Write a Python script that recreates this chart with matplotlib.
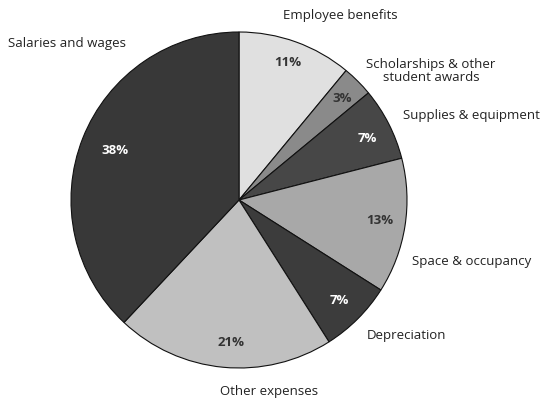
import matplotlib
matplotlib.use("Agg")
import matplotlib.pyplot as plt

categories = ["Employee benefits", "Scholarships & other\nstudent awards", "Supplies & equipment",
              "Space & occupancy", "Depreciation", "Other expenses", "Salaries and wages"]
values = [11, 3, 7, 13, 7, 21, 38]
colors = ["#e0e0e0", "#8a8a8a", "#474747", "#a8a8a8", "#3c3c3c", "#c0c0c0", "#383838"]
pct_colors = ["#333333", "#333333", "white", "#333333", "white", "#333333", "white"]

# layout (pixel coordinates, y measured from top)
label_pos = [(340, 16, "center"), (431, 71, "center"), (403, 115, "left"), (412, 261, "left"),
             (367, 336, "left"), (269, 391, "center"), (8, 44, "left")]
pct_pos = [(288, 62), (342, 99), (367, 139), (380, 220), (339, 300), (231, 343), (115, 150)]

W, H = 555, 400
fig = plt.figure(figsize=(W / 100, H / 100), dpi=100)
ax = fig.add_axes([0, 0, 1, 1])

ax.pie(values, colors=colors, startangle=90, counterclock=False,
       center=(239, H - 200), radius=168, frame=True,
       wedgeprops=dict(edgecolor="#111111", linewidth=0.8))
ax.set_xlim(0, W)
ax.set_ylim(0, H)
ax.set_aspect("equal")
ax.axis("off")

font = "Open Sans"
for cat, (x, y, ha) in zip(categories, label_pos):
    ax.text(x, H - y, cat, ha=ha, va="center", fontsize=9.5, color="#222222",
            family=font, linespacing=1.0)
for v, c, (x, y) in zip(values, pct_colors, pct_pos):
    ax.text(x, H - y, f"{v}%", ha="center", va="center", fontsize=9.5,
            fontweight="bold", color=c, family=font)

fig.savefig("out.png", dpi=100)
